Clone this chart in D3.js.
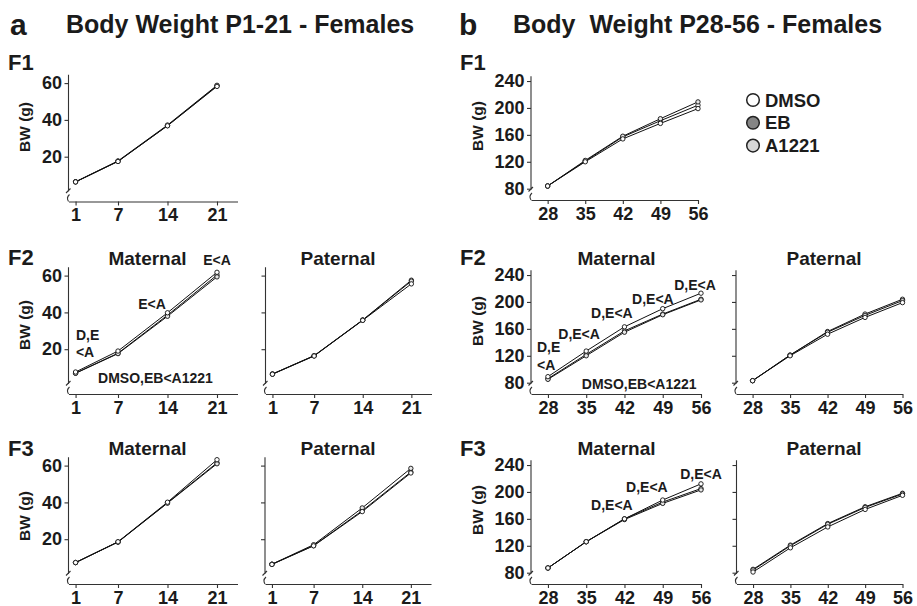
<!DOCTYPE html>
<html>
<head>
<meta charset="utf-8">
<script src="https://cdn.jsdelivr.net/npm/d3@7"></script>
<style>
  body { margin: 0; background: #fff; }
  svg { font-family: "Liberation Sans", Arial, sans-serif; font-weight: bold; }
</style>
</head>
<body>
<div class="svg-container"></div>
<script>

// x categories (postnatal day)
var days_a = [1, 7, 14, 21];
var days_b = [28, 35, 42, 49, 56];

// y tick values
var ticks_a = [20, 40, 60];
var ticks_b = [80, 120, 160, 200, 240];

// series names, legend fills
var series = ["DMSO", "EB", "A1221"];
var fills = ["#ffffff", "#858585", "#d6d6d6"];

// body weight (g), one row per series : DMSO, EB, A1221
var a_F1 = [[6.3, 17.5, 36.9, 58.5], [6.4, 17.7, 37.2, 58.8], [6.3, 17.4, 36.8, 58.2]];
var a_F2_mat = [[7.0, 17.8, 38.5, 60.3], [6.9, 17.6, 37.9, 59.3], [7.6, 19.0, 39.8, 61.8]];
var a_F2_pat = [[6.5, 16.5, 35.9, 57.5], [6.5, 16.4, 35.8, 57.0], [6.4, 16.3, 35.7, 55.5]];
var a_F3_mat = [[7.3, 18.5, 39.8, 61.5], [7.3, 18.4, 39.6, 61.0], [7.3, 18.6, 40.1, 63.2]];
var a_F3_pat = [[6.4, 16.5, 35.5, 56.5], [6.4, 17.0, 37.0, 58.5], [6.3, 16.4, 35.0, 56.0]];

var b_F1 = [[84, 121, 157, 181, 204], [84, 122, 158, 184, 209], [84, 120, 154, 177, 199]];
var b_F2_mat = [[86, 122, 157, 182, 204], [85, 120, 155, 181, 203], [89, 127, 163, 190, 213]];
var b_F2_pat = [[83, 121, 156, 182, 204], [83, 121, 155, 180, 202], [83, 120, 152, 177, 199]];
var b_F3_mat = [[87, 126, 160, 185, 205], [87, 126, 159, 183, 203], [87, 126, 160, 188, 212]];
var b_F3_pat = [[85, 121, 153, 178, 198], [84, 120, 152, 177, 197], [81, 117, 148, 174, 195]];

// significance notes: [text, day, weight, anchor]
var notes_a_F2 = [
  ["E<A", 21, 65.8, "middle"],
  ["E<A", 11.8, 41.8, "middle"],
  ["D,E", 1.05, 25, "start"],
  ["<A", 1.05, 15.8, "start"],
  ["DMSO,EB<A1221", 12.3, 1.6, "middle"]
];
var notes_b_F2 = [
  ["D,E", 26.0, 125.3, "start"],
  ["<A", 26.0, 98.7, "start"],
  ["D,E<A", 33.7, 144.5, "middle"],
  ["D,E<A", 39.7, 175.5, "middle"],
  ["D,E<A", 47.2, 197.6, "middle"],
  ["D,E<A", 54.9, 218.3, "middle"],
  ["DMSO,EB<A1221", 44.7, 71, "middle"]
];
var notes_b_F3 = [
  ["D,E<A", 39.7, 173.2, "middle"],
  ["D,E<A", 46.1, 200, "middle"],
  ["D,E<A", 56.0, 219.3, "middle"]
];

var W = 917, H = 606;
var ink = "#1b1b1b";

var svg = d3.select(".svg-container").append("svg")
  .attr("width", W)
  .attr("height", H);

// panel layout
var panels = [
  {data: a_F1, part: "a", left: 68.5, width: 169, axisY: 201.5, labels: true, bwY: 127},
  {data: a_F2_mat, part: "a", left: 68.5, width: 169, axisY: 394, labels: true, bwY: 325, title: "Maternal", titleX: 147.5, notes: notes_a_F2},
  {data: a_F2_pat, part: "a", left: 265.5, width: 166, axisY: 394, labels: false, title: "Paternal", titleX: 338},
  {data: a_F3_mat, part: "a", left: 68.5, width: 169, axisY: 584, labels: true, bwY: 516, title: "Maternal", titleX: 147.5},
  {data: a_F3_pat, part: "a", left: 265, width: 166, axisY: 584, labels: false, title: "Paternal", titleX: 338},
  {data: b_F1, part: "b", left: 531, width: 167, axisY: 200, labels: true, bwY: 126},
  {data: b_F2_mat, part: "b", left: 531, width: 170, axisY: 394, labels: true, bwY: 321, title: "Maternal", titleX: 616.5, notes: notes_b_F2},
  {data: b_F2_pat, part: "b", left: 736, width: 166.5, axisY: 394, labels: false, title: "Paternal", titleX: 824},
  {data: b_F3_mat, part: "b", left: 531, width: 170, axisY: 584, labels: true, bwY: 510, title: "Maternal", titleX: 616.5, notes: notes_b_F3},
  {data: b_F3_pat, part: "b", left: 736.5, width: 166, axisY: 584, labels: false, title: "Paternal", titleX: 824}
];

panels.forEach(function(p) {
  var isA = p.part == "a";
  var days = isA ? days_a : days_b;

  var x = d3.scaleLinear()
    .domain(isA ? [0, 23.9] : [24.9, 56])
    .range([p.left, p.left + p.width]);

  var y = isA
    ? d3.scaleLinear().domain([0, 64.5]).range([p.axisY - 8, p.axisY - 8 - 64.5 * 1.84])
    : d3.scaleLinear().domain([80, 247]).range([p.axisY - 11.3, p.axisY - 11.3 - 167 * 0.673]);

  var g = svg.append("g");

  // y axis without its domain line (drawn by hand because of the break)
  var yAxis = g.append("g")
    .attr("transform", "translate(" + p.left + ",0)")
    .call(d3.axisLeft(y)
      .tickValues(isA ? ticks_a : ticks_b)
      .tickSize(4)
      .tickFormat(p.labels ? d3.format("d") : function() { return ""; }));
  yAxis.select(".domain").remove();
  yAxis.selectAll("line").attr("stroke", "#333").attr("stroke-width", 1.1);
  yAxis.selectAll("text")
    .attr("x", -6.5)
    .style("font-family", "'Liberation Sans', Arial, sans-serif")
    .style("font-weight", "bold")
    .style("font-size", "18px")
    .attr("fill", ink);

  var top = y.range()[1];
  g.append("path")
    .attr("d", "M" + p.left + "," + top + "V" + (p.axisY - 10)
      + "M" + (p.left - 2.5) + "," + (p.axisY - 8.5) + "L" + (p.left + 2) + "," + (p.axisY - 13)
      + "M" + (p.left + 1) + "," + (p.axisY - 7) + "Q" + (p.left - 2.5) + "," + (p.axisY - 4) + " " + p.left + "," + p.axisY)
    .attr("fill", "none")
    .attr("stroke", "#333")
    .attr("stroke-width", 1.1);

  // x axis
  var xAxis = g.append("g")
    .attr("transform", "translate(0," + p.axisY + ")")
    .call(d3.axisBottom(x).tickValues(days).tickSize(4).tickSizeOuter(0));
  xAxis.select(".domain").attr("stroke", "#333").attr("stroke-width", 1.1);
  xAxis.selectAll("line").attr("stroke", "#333").attr("stroke-width", 1.1);
  xAxis.selectAll("text")
    .style("font-family", "'Liberation Sans', Arial, sans-serif")
    .style("font-weight", "bold")
    .style("font-size", "18px")
    .attr("fill", ink);

  // y axis title
  if (p.labels) {
    g.append("text")
      .attr("transform", "translate(" + (isA ? 29.5 : 483) + "," + p.bwY + ") rotate(-90)")
      .style("text-anchor", "middle")
      .style("font-size", "15.5px")
      .attr("fill", ink)
      .text("BW (g)");
  }

  // panel title
  if (p.title) {
    g.append("text")
      .attr("x", p.titleX)
      .attr("y", p.axisY - 129)
      .style("text-anchor", "middle")
      .style("font-size", "19px")
      .attr("fill", ink)
      .text(p.title);
  }

  // lines
  var line = d3.line()
    .x(function(d, i) { return x(days[i]); })
    .y(function(d) { return y(d); });

  p.data.forEach(function(vals) {
    g.append("path")
      .attr("d", line(vals))
      .attr("fill", "none")
      .attr("stroke", "#111")
      .attr("stroke-width", 1);
  });

  // markers
  p.data.forEach(function(vals, s) {
    g.selectAll(null)
      .data(vals)
      .enter()
      .append("circle")
      .attr("cx", function(d, i) { return x(days[i]); })
      .attr("cy", function(d) { return y(d); })
      .attr("r", 2.2)
      .attr("fill", s == 1 ? "#e6e6e6" : "#fff")
      .attr("stroke", "#111")
      .attr("stroke-width", 0.9);
  });

  // significance notes
  if (p.notes) {
    p.notes.forEach(function(n) {
      g.append("text")
        .attr("x", x(n[1]))
        .attr("y", y(n[2]))
        .style("text-anchor", n[3])
        .style("font-size", "14px")
        .attr("fill", ink)
        .text(n[0]);
    });
  }
});

// headings
svg.append("text").attr("x", 10).attr("y", 35).style("font-size", "30px").attr("fill", ink).text("a");
svg.append("text").attr("x", 66).attr("y", 33).style("font-size", "25px").attr("fill", ink)
  .text("Body Weight P1-21 - Females");
svg.append("text").attr("x", 459).attr("y", 35).style("font-size", "30px").attr("fill", ink).text("b");
svg.append("text").attr("x", 513).attr("y", 33).style("font-size", "25px").style("white-space", "pre").attr("fill", ink)
  .text("Body  Weight P28-56 - Females");

// generation labels
[["F1", 70], ["F2", 265], ["F3", 456]].forEach(function(f) {
  svg.append("text").attr("x", 8).attr("y", f[1]).style("font-size", "22px").attr("fill", ink).text(f[0]);
  svg.append("text").attr("x", 460).attr("y", f[1]).style("font-size", "22px").attr("fill", ink).text(f[0]);
});

// legend
var legend = svg.append("g").attr("transform", "translate(753,100)");
series.forEach(function(name, i) {
  legend.append("circle")
    .attr("cx", 0)
    .attr("cy", i * 22.8)
    .attr("r", 6.3)
    .attr("fill", fills[i])
    .attr("stroke", "#222")
    .attr("stroke-width", 1.5);
  legend.append("text")
    .attr("x", 12)
    .attr("y", i * 22.8 + 6.6)
    .style("font-size", "18.5px")
    .attr("fill", ink)
    .text(name);
});

</script>
</body>
</html>
